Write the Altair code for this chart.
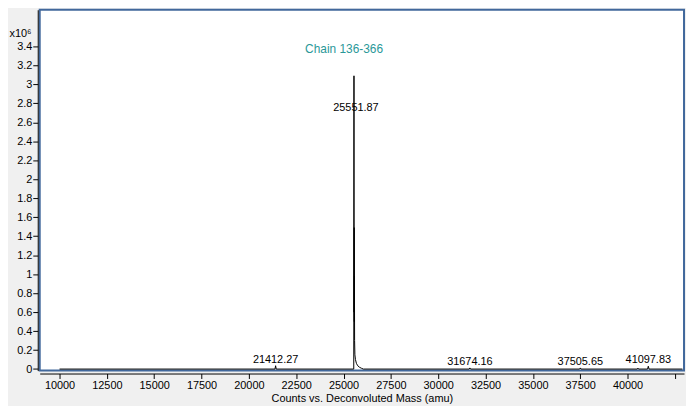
import altair as alt
import pandas as pd

# Spectrum (Counts vs. Deconvoluted Mass)
mass = [10000, 21380, 21412.27, 21445, 25520, 25540, 25551.87, 25558, 25564, 25570,
        25576, 25585, 25600, 25630, 25680, 25750, 25850, 25950, 26050,
        31640, 31674.16, 31710, 37470, 37505.65, 37540,
        40520, 40550, 40580, 41060, 41097.83, 41135, 42900]
counts = [0, 0, 35000, 0, 0, 0, 3090000, 600000, 1490000, 500000,
          980000, 300000, 150000, 100000, 60000, 35000, 18000, 8000, 0,
          0, 12000, 0, 0, 12000, 0,
          0, 10000, 0, 0, 30000, 0, 0]

# Peak annotations
minor_mass = [21412.27, 31674.16, 37505.65, 41097.83]
minor_counts = [35000, 12000, 12000, 30000]
minor_label = ["21412.27", "31674.16", "37505.65", "41097.83"]

main_mass = [25551.87]
main_counts = [3090000]
main_label = ["25551.87"]
compound = ["Chain 136-366"]

y_ticks = [i * 200000 for i in range(18)]
x_ticks = [10000 + 2500 * i for i in range(14)]

FONT = "Liberation Sans"

spec = pd.DataFrame({"mass": mass, "counts": counts})
minor = pd.DataFrame({"mass": minor_mass, "counts": minor_counts, "label": minor_label})
main = pd.DataFrame({"mass": main_mass, "counts": main_counts, "label": main_label,
                     "compound": compound})

xscale = alt.Scale(domain=[8953, 42984], nice=False, zero=False)
yscale = alt.Scale(domain=[-15700, 3786000], nice=False, zero=False)

xenc = alt.X("mass:Q", scale=xscale, axis=alt.Axis(
    values=x_ticks, tickCount=20, title="Counts vs. Deconvoluted Mass (amu)",
    labelExpr="datum.value > 41000 ? '' : format(datum.value, 'd')",
    grid=False, offset=3, domainColor="black", tickColor="black", tickSize=5,
    labelColor="black", labelFontSize=11, labelFont=FONT, labelPadding=1,
    titleFont=FONT, titleFontSize=11, titleFontWeight="normal", titleColor="black",
    titlePadding=2, labelFlush=False, labelOverlap=False))
yenc = alt.Y("counts:Q", scale=yscale, axis=alt.Axis(
    values=y_ticks, tickCount=20, title="x10⁶",
    labelExpr="format(datum.value / 1000000, '.1~f')",
    grid=False, offset=2, domainColor="black", tickColor="black", tickSize=5,
    labelColor="black", labelFontSize=11, labelFont=FONT, labelPadding=1,
    titleFont=FONT, titleFontSize=11, titleFontWeight="normal", titleColor="black",
    titleAngle=0, titleAlign="left", titleBaseline="alphabetic", titleX=-29, titleY=27,
    labelFlush=False, labelOverlap=False))

line = alt.Chart(spec).mark_line(color="black", strokeWidth=1, interpolate="linear").encode(
    x=xenc, y=yenc)

minor_txt = alt.Chart(minor).mark_text(font=FONT, fontSize=11, color="black",
                                       baseline="alphabetic", dy=-3).encode(
    x="mass:Q", y="counts:Q", text="label:N")

main_txt = alt.Chart(main).mark_text(font=FONT, fontSize=11, color="black",
                                     baseline="middle", dx=2, dy=33).encode(
    x="mass:Q", y="counts:Q", text="label:N")

comp_txt = alt.Chart(main).mark_text(font=FONT, fontSize=12, color="#2a9898",
                                     baseline="middle", dx=-10, dy=-27).encode(
    x="mass:Q", y="counts:Q", text="compound:N")

chart = alt.layer(line, minor_txt, main_txt, comp_txt).properties(
    width=650, height=364,
    background="#f0f0f0",
    padding={"left": 32, "top": 0, "right": 2, "bottom": 34},
    autosize=alt.AutoSizeParams(type="none"),
).configure_view(fill="white", stroke="#41689c", strokeWidth=2)

chart.save("out.html", embed_options={"renderer": "svg", "actions": False})
